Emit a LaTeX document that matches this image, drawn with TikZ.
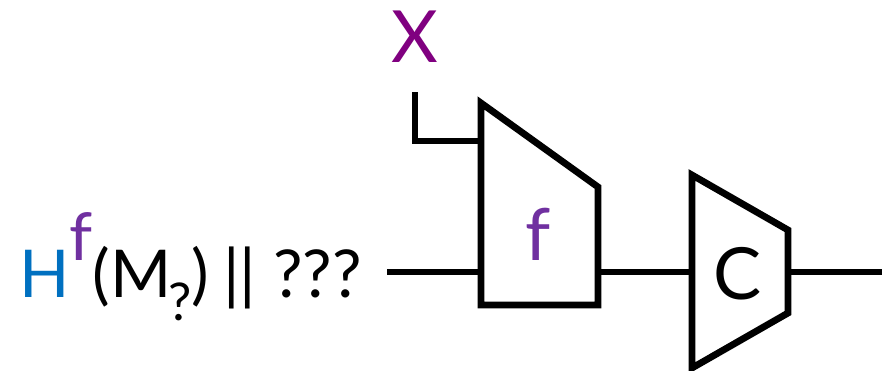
\documentclass[tikz,border=0pt]{standalone}
\usepackage{fontspec}
\setmainfont{Lato}
\usetikzlibrary{calc}
\definecolor{hblue}{HTML}{0070C0}
\definecolor{fpurple}{HTML}{7030A0}
\definecolor{xpurple}{HTML}{800080}
\tikzset{%
  wire/.style={line width=3.4pt},
  box/.style={line width=3.4pt, line join=miter},
  lbl/.style={font=\fontsize{36pt}{40pt}\selectfont, inner sep=0pt},
}

\begin{document}
\begin{tikzpicture}[x=0.5pt, y=-0.5pt]
    \useasboundingbox (0,0) rectangle (882,370);

    % box f
    \coordinate (F1) at (481,103);
    \coordinate (F2) at (598,187);
    \coordinate (F3) at (598,305);
    \coordinate (F4) at (481,305);
    \coordinate (fin) at (481,272);
    \coordinate (fkey) at (481,141);
    \coordinate (fout) at (598,272);

    % box C
    \coordinate (C1) at (692,175);
    \coordinate (C2) at (788,230);
    \coordinate (C3) at (788,313);
    \coordinate (C4) at (692,368);
    \coordinate (cin) at (692,272);
    \coordinate (cout) at (788,272);
    \coordinate (out) at (882,272);

    \draw[box] (F1) -- (F2) -- (F3) -- (F4) -- cycle;
    \draw[box] (C1) -- (C2) -- (C3) -- (C4) -- cycle;

    \node[lbl, text=fpurple] (flbl) at (538,234) {f};
    \node[lbl] (clbl) at (738,274) {C};
    \node[lbl, text=xpurple] (xlbl) at (415,37) {X};

    \node[lbl, font=\fontsize{33pt}{36pt}\selectfont, anchor=base east] (msg) at (362,297)
      {\textcolor{hblue}{H}\raisebox{0.55em}{\textcolor{fpurple}{f}}(M\kern-0.05em\raisebox{-0.35em}{\fontsize{26pt}{28pt}\selectfont ?})
       \kern-0.05em|| ???};

    % wires
    \coordinate (in) at (387,272);
    \coordinate (ktop) at (415,92);
    \draw[wire] (in) -- (fin);
    \draw[wire] (ktop) |- (fkey);
    \draw[wire] (fout) -- (cin);
    \draw[wire] (cout) -- (out);
\end{tikzpicture}
\end{document}
